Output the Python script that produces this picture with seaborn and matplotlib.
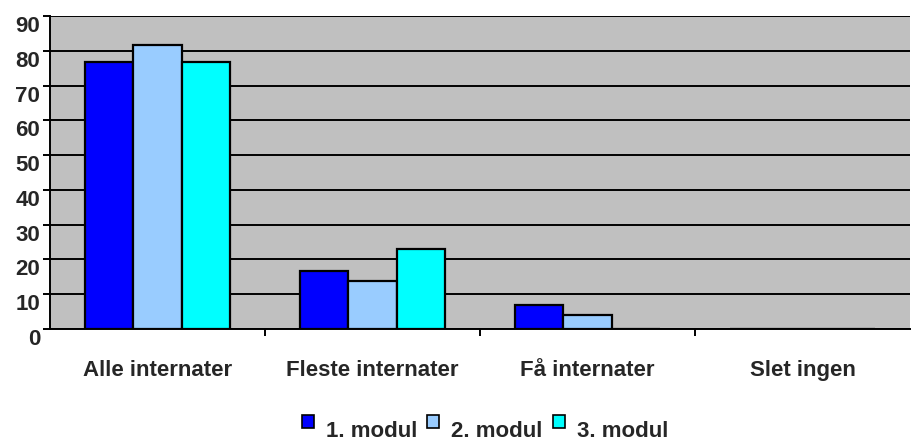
import pandas as pd
import matplotlib
matplotlib.use("Agg")
import matplotlib.pyplot as plt
import seaborn as sns
from matplotlib.patches import Patch, Rectangle
from matplotlib.legend_handler import HandlerPatch

# Chart data
categories = ["Alle internater", "Fleste internater", "Få internater", "Slet ingen"]
modul_1 = [76.7, 16.8, 6.9, 0]
modul_2 = [81.8, 13.8, 4.0, 0]
modul_3 = [76.7, 23.0, 0, 0]
series_names = ["1. modul", "2. modul", "3. modul"]
colors = ["#0000FF", "#99CCFF", "#00FFFF"]

rows = []
for name, vals in zip(series_names, [modul_1, modul_2, modul_3]):
    for cat, v in zip(categories, vals):
        rows.append({"kategori": cat, "serie": name, "verdi": v})
df = pd.DataFrame(rows)

sns.set_style("white")
plt.rcParams["font.family"] = ["Liberation Sans", "DejaVu Sans"]
plt.rcParams["font.weight"] = "bold"

fig = plt.figure(figsize=(9.12, 4.44), dpi=100)
ax = fig.add_axes([50 / 912, 115 / 444, 860 / 912, 313 / 444])
ax.set_facecolor("#C0C0C0")

sns.barplot(data=df, x="kategori", y="verdi", hue="serie", order=categories,
            hue_order=series_names, palette=colors, saturation=1, width=0.675,
            edgecolor="black", linewidth=1.6, ax=ax, legend=False, zorder=3)

ax.set_ylim(0, 90)
ax.set_xlim(-0.5, 3.5)
ax.set_yticks(range(0, 91, 10))
ax.yaxis.grid(True, color="black", linewidth=1.4, zorder=1)
ax.set_axisbelow(True)

for s in ["top", "right"]:
    ax.spines[s].set_visible(False)
ax.spines["left"].set_color("black")
ax.spines["left"].set_linewidth(1.4)
ax.spines["bottom"].set_color("black")
ax.spines["bottom"].set_linewidth(1.4)

ax.set_xlabel("")
ax.set_ylabel("")
ax.tick_params(axis="y", length=5, width=1.4, color="black", direction="out",
               labelsize=16, pad=2, left=True)
ax.tick_params(axis="x", which="major", length=0, labelsize=16, pad=22)
ax.set_xticks([0.5, 1.5, 2.5], minor=True)
ax.tick_params(axis="x", which="minor", length=5, width=1.4, color="black",
               direction="out", bottom=True)
for lbl in ax.get_xticklabels() + ax.get_yticklabels():
    lbl.set_fontweight("bold")
# labels in the original sit just below their tick
for lbl in ax.get_yticklabels():
    lbl.set_verticalalignment("top")


# legend squares are raised above the text baseline
def raised_square(legend, orig_handle, xdescent, ydescent, width, height, fontsize):
    return Rectangle((-xdescent, -ydescent + 5), width, height)


handles = [Patch(facecolor=c, edgecolor="black", linewidth=1.2) for c in colors]
fig.legend(handles, series_names, loc="center", bbox_to_anchor=(485 / 912, 13 / 444),
           ncol=3, frameon=False, handlelength=0.54, handleheight=0.54,
           handletextpad=0.54, columnspacing=0.45, borderpad=0,
           handler_map={Patch: HandlerPatch(patch_func=raised_square)},
           prop={"size": 16, "weight": "bold"})

fig.savefig("out.png", dpi=100)
